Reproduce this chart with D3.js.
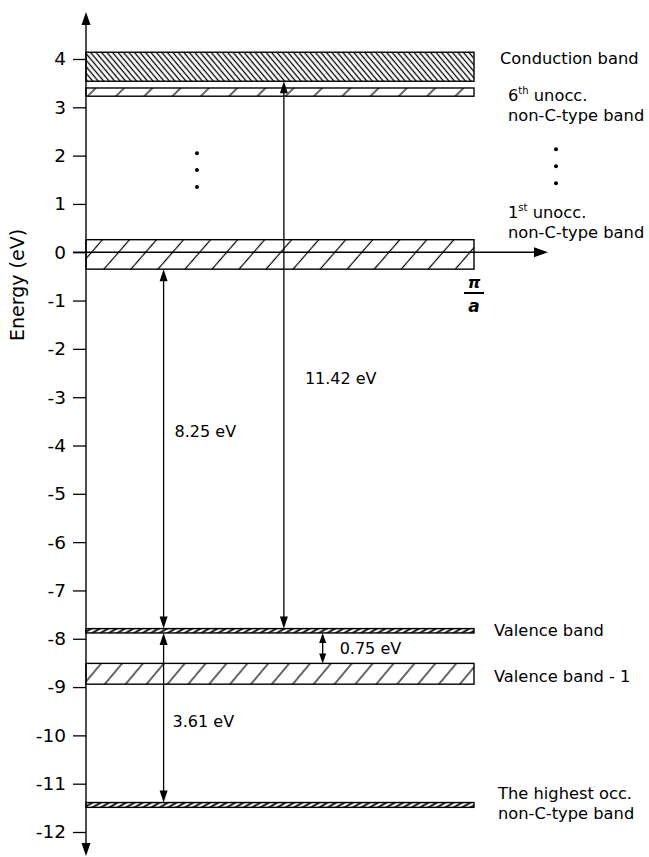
<!DOCTYPE html>
<html>
<head>
<meta charset="utf-8">
<script src="https://cdn.jsdelivr.net/npm/d3@7"></script>
<style>
  html, body { margin: 0; padding: 0; background: #fff; }
  svg { display: block; }
  text { font-family: "DejaVu Sans", sans-serif; fill: #000; }
</style>
</head>
<body>
<svg id="chart" width="649" height="857"></svg>
<script>
// ---------------- data ----------------
const yTicks = [4, 3, 2, 1, 0, -1, -2, -3, -4, -5, -6, -7, -8, -9, -10, -11, -12];
const bandIds = ["cb", "u6", "u1", "vb", "vb1", "hocc"];
const bandTop = [4.14, 3.40, 0.26, -7.79, -8.51, -11.39];
const bandBottom = [3.54, 3.23, -0.35, -7.88, -8.94, -11.49];
const bandLabelLines = [
  ["Conduction band"],
  ["6|th| unocc.", "non-C-type band"],
  ["1|st| unocc.", "non-C-type band"],
  ["Valence band"],
  ["Valence band - 1"],
  ["The highest occ.", "non-C-type band"]
];
const gapLabels = ["8.25 eV", "11.42 eV", "0.75 eV", "3.61 eV"];
const gapFrom = [-0.35, 3.54, -7.88, -7.88];
const gapTo = [-7.79, -7.79, -8.51, -11.39];
const dotsLeft = [2.05, 1.70, 1.35];
const dotsRight = [2.13, 1.78, 1.43];

// ---------------- layout ----------------
const svg = d3.select("#chart");
const y = d3.scaleLinear().domain([-12, 4]).range([832, 59]);
const x = d3.scaleLinear().domain([0, 1]).range([86, 474]);

// hatch patterns
const defs = svg.append("defs");
function hatch(id, spacing, angle, sw) {
  const p = defs.append("pattern")
    .attr("id", id)
    .attr("patternUnits", "userSpaceOnUse")
    .attr("width", spacing).attr("height", 10)
    .attr("patternTransform", `rotate(${angle})`);
  p.append("rect").attr("width", spacing).attr("height", 10).attr("fill", "#fff");
  p.append("line").attr("x1", spacing / 2).attr("x2", spacing / 2)
    .attr("y1", -1).attr("y2", 11)
    .attr("stroke", "#000").attr("stroke-width", sw);
}
hatch("p-cb", 4.2, -40, 1.3);
hatch("p-u6", 20, 45, 1.2);
hatch("p-u1", 20.4, 41, 1.2);
hatch("p-vb", 4.2, 60, 1.8);
hatch("p-vb1", 16, 40, 1.2);
hatch("p-hocc", 4.2, 60, 1.8);

// arrow marker helper (filled triangles)
function tri(g, xc, yTip, dir, len, half) {
  const base = yTip - dir * len;
  g.append("path")
    .attr("d", `M${xc},${yTip}L${xc - half},${base}L${xc + half},${base}Z`)
    .attr("fill", "#000");
}

// bands
const bandG = svg.append("g");
bandIds.forEach((id, i) => {
  bandG.append("rect")
    .attr("x", x(0)).attr("width", x(1) - x(0))
    .attr("y", y(bandTop[i]))
    .attr("height", y(bandBottom[i]) - y(bandTop[i]))
    .attr("fill", `url(#p-${id})`)
    .attr("stroke", "#000").attr("stroke-width", 1.4);
});

// axes
const axisG = svg.append("g").attr("transform", `translate(${x(0)},0)`)
  .call(d3.axisLeft(y).tickValues(yTicks).tickSize(13).tickPadding(7)
    .tickFormat(d3.format("d")));
axisG.select(".domain").remove();
axisG.selectAll(".tick line").attr("stroke", "#000").attr("stroke-width", 1.3);
axisG.selectAll(".tick text")
  .attr("font-family", "DejaVu Sans, sans-serif")
  .attr("font-size", 18.5)
  .text(d => String(d).replace("−", "-"));

const lines = svg.append("g");
lines.append("line").attr("x1", x(0)).attr("x2", x(0))
  .attr("y1", 20).attr("y2", 848)
  .attr("stroke", "#000").attr("stroke-width", 1.4);
tri(lines, x(0), 12, -1, 13, 4.5);
tri(lines, x(0), 856, 1, 13, 4.5);
lines.append("line").attr("x1", x(0) - 13).attr("x2", 540)
  .attr("y1", y(0)).attr("y2", y(0))
  .attr("stroke", "#000").attr("stroke-width", 1.3);
lines.append("path")
  .attr("d", `M548,${y(0)}L534,${y(0) - 5}L534,${y(0) + 5}Z`)
  .attr("fill", "#000");

// pi / a
const piX = x(1);
svg.append("text").attr("x", piX).attr("y", 288)
  .attr("text-anchor", "middle")
  .attr("font-family", "DejaVu Serif, serif").attr("font-style", "italic")
  .attr("font-weight", "bold").attr("font-size", 16).text("π");
svg.append("line").attr("x1", piX - 10).attr("x2", piX + 10)
  .attr("y1", 293).attr("y2", 293).attr("stroke", "#000").attr("stroke-width", 2);
svg.append("text").attr("x", piX).attr("y", 312)
  .attr("text-anchor", "middle")
  .attr("font-family", "DejaVu Serif, serif").attr("font-style", "italic")
  .attr("font-weight", "bold").attr("font-size", 17).text("a");

// y-axis title
svg.append("text")
  .attr("transform", "translate(24,285) rotate(-90)")
  .attr("text-anchor", "middle")
  .attr("font-family", "Liberation Sans, Arial, sans-serif")
  .attr("font-size", 19).text("Energy (eV)");

// gap arrows
const gapK = [0.2, 0.51, 0.61, 0.2];
const gapLabelE = [-3.7, -2.6, -8.2, -9.7];
const gapLabelDx = [11, 21, 17, 9];
const arrG = svg.append("g");
gapLabels.forEach((lab, i) => {
  const xc = x(gapK[i]);
  const y1 = y(gapFrom[i]), y2 = y(gapTo[i]);
  const small = Math.abs(y2 - y1) < 60;
  const len = small ? 10 : 12, half = small ? 3.5 : 4;
  arrG.append("line").attr("x1", xc).attr("x2", xc)
    .attr("y1", y1 + len - 1).attr("y2", y2 - len + 1)
    .attr("stroke", "#000").attr("stroke-width", 1.3);
  tri(arrG, xc, y1, -1, len, half);
  tri(arrG, xc, y2, 1, len, half);
  arrG.append("text")
    .attr("x", xc + gapLabelDx[i]).attr("y", y(gapLabelE[i]) + 6)
    .attr("font-size", 16).text(lab);
});

// band labels
const labelX = [500, 508, 508, 494, 494, 498];
const labelY0 = [64, 101, 218, 636, 682, 799];
const labG = svg.append("g");
bandLabelLines.forEach((ls, i) => {
  ls.forEach((line, j) => {
    const t = labG.append("text").attr("x", labelX[i]).attr("y", labelY0[i] + j * 20)
      .attr("font-size", 16.3);
    const parts = line.split("|");
    if (parts.length === 3) {
      t.append("tspan").text(parts[0]);
      t.append("tspan").attr("dy", -7).attr("font-size", 10).text(parts[1]);
      t.append("tspan").attr("dy", 7).text(parts[2]);
    } else {
      t.text(line);
    }
  });
});

// ellipsis dots
const dotG = svg.append("g");
dotsLeft.forEach(e => dotG.append("circle").attr("cx", x(0.286)).attr("cy", y(e)).attr("r", 2));
dotsRight.forEach(e => dotG.append("circle").attr("cx", 556).attr("cy", y(e)).attr("r", 2));
</script>
</body>
</html>
